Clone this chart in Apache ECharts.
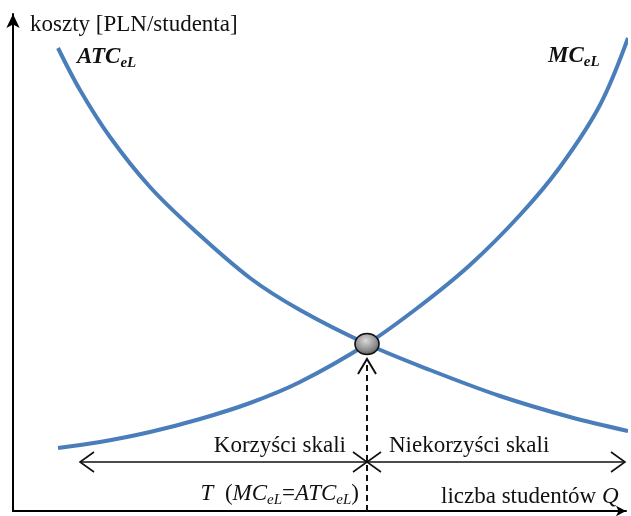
<!DOCTYPE html>
<html><head><meta charset="utf-8">
<script src="https://cdn.jsdelivr.net/npm/echarts@6/dist/echarts.min.js"></script>
<style>html,body{margin:0;padding:0;background:#fff}#c{width:631px;height:516px}</style>
</head><body><div id="c"></div>
<script>
// Average total cost curve (ATC_eL)
const atcQ    = [45, 67, 97, 137, 180, 237, 287, 354, 417, 487, 557, 615];
const atcCost = [463, 421, 374, 324, 282, 233, 201, 167, 141, 115, 94, 80];
// Marginal cost curve (MC_eL)
const mcQ    = [45, 87, 137, 187, 237, 287, 354, 407, 457, 507, 547, 587, 615];
const mcCost = [63, 69, 79, 92, 108, 129, 167, 205, 246, 296, 344, 406, 473];
// Point T where MC = ATC
const tQ = [354];
const tCost = [167];
// scale-effect range arrows
const rangeQ = [67, 354, 612];
const rangeCost = [49];

const serif = "'Liberation Serif','Times New Roman',serif";
const blue = '#4a7ebb';

const chart = echarts.init(document.getElementById('c'), null, {renderer: 'canvas'});

function head(tip, dir, len, half) {
  const bx = tip[0] - dir[0] * len, by = tip[1] - dir[1] * len;
  const px = -dir[1], py = dir[0];
  return [[bx + px * half, by + py * half], tip, [bx - px * half, by - py * half]];
}

// text made of runs (for subscripts)
const mctx = document.createElement('canvas').getContext('2d');
function runs(x, yMid, parts, align) {
  const widths = parts.map(function (p) { mctx.font = p.font; return mctx.measureText(p.text).width; });
  const total = widths.reduce(function (a, b) { return a + b; }, 0);
  let cx = align === 'right' ? x - total : x;
  return parts.map(function (p, i) {
    const el = {type: 'text', z: 10, style: {x: cx, y: yMid + (p.dy || 0), text: p.text, font: p.font,
      fill: '#111', align: 'left', verticalAlign: 'middle'}};
    cx += widths[i];
    return el;
  });
}
const fN = '23px ' + serif, fI = 'italic 23px ' + serif, fS = 'italic 15px ' + serif;
const fB = 'italic bold 23px ' + serif, fBS = 'italic bold 15px ' + serif;

const graphics = [].concat(
  runs(30, 25, [{text: 'koszty [PLN/studenta]', font: fN}]),
  runs(77, 57, [{text: 'ATC', font: fB}, {text: 'eL', font: fBS, dy: 6}]),
  runs(548, 56, [{text: 'MC', font: fB}, {text: 'eL', font: fBS, dy: 6}]),
  runs(346, 446, [{text: 'Korzyści skali', font: fN}], 'right'),
  runs(389, 446, [{text: 'Niekorzyści skali', font: fN}]),
  runs(359, 494, [
    {text: 'T', font: fI}, {text: '  (', font: fN}, {text: 'MC', font: fI}, {text: 'eL', font: fS, dy: 6},
    {text: '=', font: fN}, {text: 'ATC', font: fI}, {text: 'eL', font: fS, dy: 6}, {text: ')', font: fN}
  ], 'right'),
  runs(441, 497, [{text: 'liczba studentów ', font: fN}, {text: 'Q', font: fI}])
);

const option = {
  animation: false,
  backgroundColor: '#fff',
  grid: {left: 13, right: 5, top: 14, bottom: 5},
  xAxis: {
    type: 'value', min: 0, max: 613,
    axisLine: {show: true, lineStyle: {color: '#000', width: 2}, symbol: ['none', 'arrow'], symbolSize: [8, 10]},
    axisTick: {show: false}, axisLabel: {show: false}, splitLine: {show: false}
  },
  yAxis: {
    type: 'value', min: 0, max: 497,
    axisLine: {show: true, lineStyle: {color: '#000', width: 2}, symbol: ['none', 'arrow'], symbolSize: [10, 14]},
    axisTick: {show: false}, axisLabel: {show: false}, splitLine: {show: false}
  },
  series: [
    {
      type: 'line', name: 'ATC', data: atcQ.map(function (q, i) { return [q, atcCost[i]]; }),
      smooth: 0.35, symbol: 'none', clip: false,
      lineStyle: {color: blue, width: 4, cap: 'butt'}, z: 3
    },
    {
      type: 'line', name: 'MC', data: mcQ.map(function (q, i) { return [q, mcCost[i]]; }),
      smooth: 0.35, symbol: 'none', clip: false,
      lineStyle: {color: blue, width: 4, cap: 'butt'}, z: 3
    },
    {
      type: 'custom', clip: false, z: 4,
      data: [[tQ[0], tCost[0]]],
      renderItem: function (params, api) {
        const stroke = {stroke: '#111', lineWidth: 1.6, fill: null};
        const pt = api.coord([tQ[0], tCost[0]]);
        const base = api.coord([tQ[0], 0]);
        const L = api.coord([rangeQ[0], rangeCost[0]]);
        const M = api.coord([rangeQ[1], rangeCost[0]]);
        const R = api.coord([rangeQ[2], rangeCost[0]]);
        const children = [];
        children.push({type: 'line', shape: {x1: L[0], y1: L[1], x2: R[0], y2: R[1]}, style: stroke});
        const hl = 14, hh = 10;
        [[L, [-1, 0]], [M, [1, 0]], [M, [-1, 0]], [R, [1, 0]]].forEach(function (a) {
          children.push({type: 'polyline', shape: {points: head(a[0], a[1], hl, hh)}, style: stroke});
        });
        const tipY = pt[1] + 15;
        children.push({type: 'line', shape: {x1: pt[0], y1: base[1], x2: pt[0], y2: tipY + 1},
          style: {stroke: '#111', lineWidth: 2, lineDash: [6, 4]}});
        children.push({type: 'polyline', shape: {points: head([pt[0], tipY], [0, -1], 15, 9)},
          style: {stroke: '#111', lineWidth: 2, fill: null}});
        return {type: 'group', children: children};
      }
    },
    {
      type: 'scatter', z: 5, data: [[tQ[0], tCost[0]]], symbol: 'circle', symbolSize: [24, 21],
      itemStyle: {
        color: {type: 'radial', x: 0.45, y: 0.35, r: 0.75,
          colorStops: [{offset: 0, color: '#d9d9d9'}, {offset: 0.6, color: '#8a8a8a'}, {offset: 1, color: '#3c3c3c'}]},
        borderColor: '#111', borderWidth: 1.5, opacity: 1
      }
    }
  ],
  graphic: graphics
};
chart.setOption(option);
</script>
</body></html>
